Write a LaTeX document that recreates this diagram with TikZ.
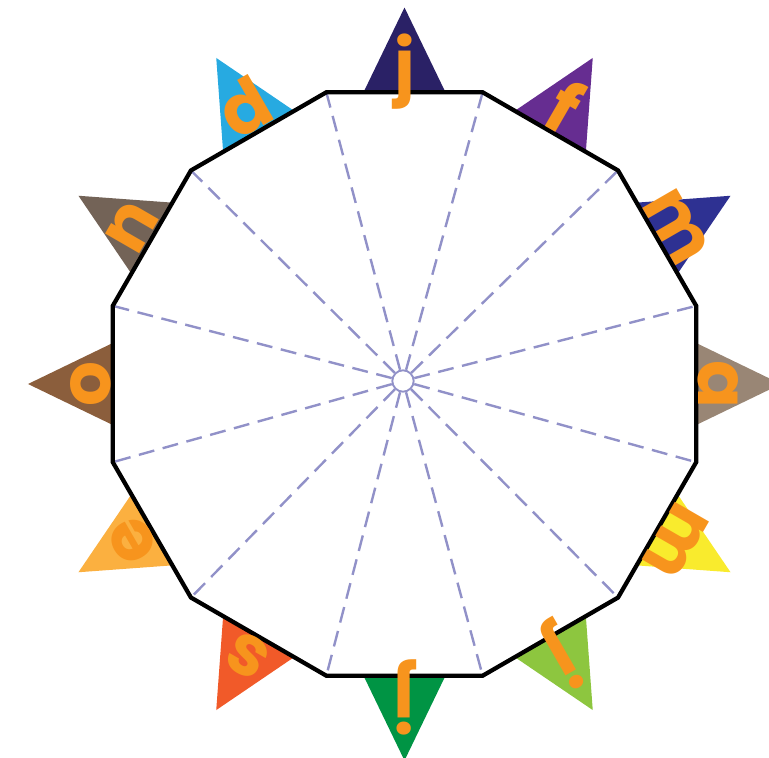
\documentclass[tikz,border=0pt]{standalone}
\usepackage{fontspec}
\setmainfont{Poppins}
\definecolor{cA}{HTML}{2A2166}
\definecolor{cB}{HTML}{662D91}
\definecolor{cC}{HTML}{2E3192}
\definecolor{cD}{HTML}{998675}
\definecolor{cE}{HTML}{F9EB2D}
\definecolor{cF}{HTML}{8DC63F}
\definecolor{cG}{HTML}{009444}
\definecolor{cH}{HTML}{F15A29}
\definecolor{cI}{HTML}{FBB040}
\definecolor{cJ}{HTML}{8B5E3C}
\definecolor{cK}{HTML}{736357}
\definecolor{cL}{HTML}{27AAE1}
\definecolor{lettercol}{HTML}{F7941D}
\definecolor{dashcol}{RGB}{145,145,200}
\tikzset{
  dashline/.style={draw=dashcol, line width=1.8pt, dash pattern=on 12pt off 6.5pt},
  rim/.style={draw=black, line width=3.2pt, line join=miter},
  hub/.style={circle, draw=dashcol, fill=white, line width=1.4pt, minimum size=16pt, inner sep=0pt},
  letter/.style={text=lettercol, font=\fontsize{53}{53}\selectfont\bfseries, inner sep=0pt, anchor=base}
}
\begin{document}
\begin{tikzpicture}[x=0.75pt,y=0.75pt]
\useasboundingbox (-404.5,-374) rectangle (364.5,384);
\clip (-404.5,-374) rectangle (364.5,384);
% pennants
\foreach \ang/\col in {90/cA,60/cB,30/cC,0/cD,-30/cE,-60/cF,-90/cG,-120/cH,-150/cI,180/cJ,150/cK,120/cL}{
  \fill[\col, rotate=\ang] (291.7,-41) -- (291.7,41) -- (376.5,0) -- cycle;
}
% vertices
\foreach \k in {1,...,12}{
  \coordinate (v\k) at ({15+30*(\k-1)}:302);
}
\node[hub] (c) at (-1.5,3) {};
\foreach \k in {1,...,12}{
  \draw[dashline] (c) -- (v\k);
}
\draw[rim] (v1) -- (v2) -- (v3) -- (v4) -- (v5) -- (v6) -- (v7) -- (v8) -- (v9) -- (v10) -- (v11) -- (v12) -- cycle;
% letters
\foreach \ang/\lt [count=\i] in {90/j,60/f,30/m,0/a,-30/m,-60/j,-90/j,-120/s,-150/e,180/o,150/n,120/d}{
  \node[letter, rotate=\ang-90] (l\i) at (\ang:294) {\lt};
}
\end{tikzpicture}
\end{document}
